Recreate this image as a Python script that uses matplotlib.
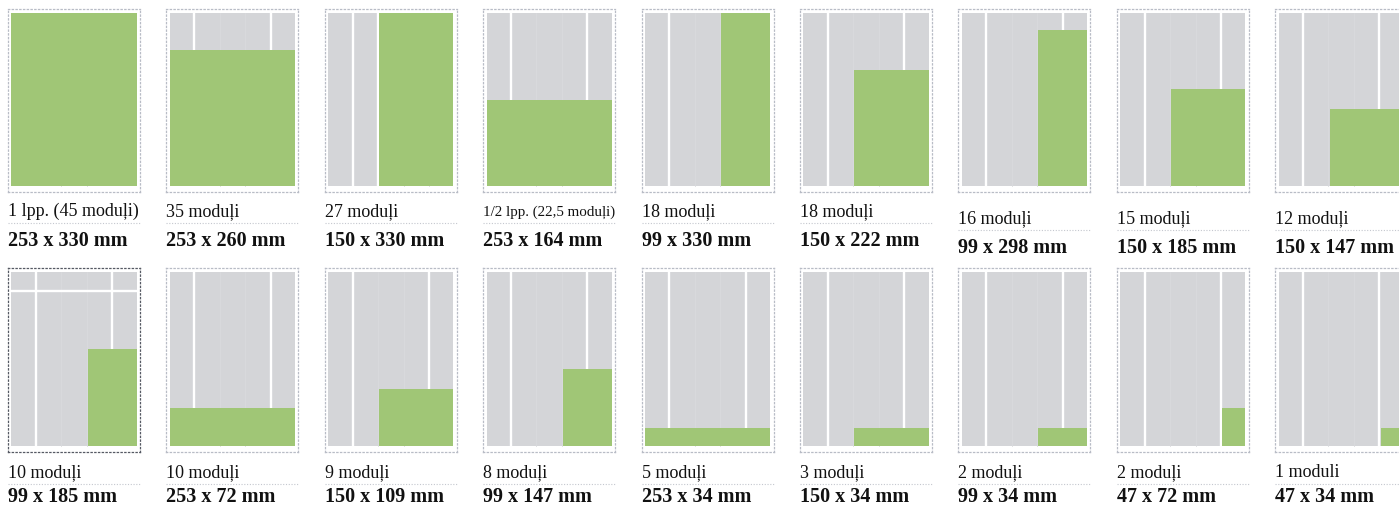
import matplotlib.pyplot as plt
from matplotlib.lines import Line2D
from matplotlib.patches import Rectangle

# ad sizes (mm) on a 253 x 330 mm page, 5 x 9 modules
labels = ["1 lpp. (45 moduļi)", "35 moduļi", "27 moduļi", "1/2 lpp. (22,5 moduļi)",
          "18 moduļi", "18 moduļi", "16 moduļi", "15 moduļi", "12 moduļi",
          "10 moduļi", "10 moduļi", "9 moduļi", "8 moduļi", "5 moduļi",
          "3 moduļi", "2 moduļi", "2 moduļi", "1 moduli"]
ad_w = [253, 253, 150, 253, 99, 150, 99, 150, 150,
        99, 253, 150, 99, 253, 150, 99, 47, 47]
ad_h = [330, 260, 330, 164, 330, 222, 298, 185, 147,
        185, 72, 109, 147, 34, 34, 34, 72, 34]
# white gutter lines shown in each thumbnail (column index)
guides = [[1, 4]] * 18
guides[2] = [1, 2]

PAGE_W, PAGE_H = 253, 330
COL, GUT = 47, 4.5
ROW, RGUT = 34, 3

GRAY = "#d4d5d8"
GREEN = "#a0c676"
TXT = "#111111"
W, H = 1399, 507

fig = plt.figure(figsize=(W / 100, H / 100), dpi=100)
fig.patch.set_facecolor("white")

pitch = 158.4
x0 = 8
rows_y = [(9, 192), (268, 452)]


def gutter(k):
    return k * COL + (k - 0.5) * GUT


for i in range(18):
    r, c = divmod(i, 9)
    left = x0 + pitch * c
    top, bot = rows_y[r]
    ax = fig.add_axes([left / W, 1 - bot / H, 132 / W, (bot - top) / H])
    ax.set_xlim(-7, PAGE_W + 7)
    ax.set_ylim(-11, PAGE_H + 8)
    ax.set_xticks([])
    ax.set_yticks([])
    ax.set_facecolor("white")
    for s in ax.spines.values():
        s.set_linestyle((0, (1, 2)))
        s.set_linewidth(0.9)
        s.set_edgecolor("#555963" if i == 9 else "#b8bcc6")

    ax.add_patch(Rectangle((0, 0), PAGE_W, PAGE_H, color=GRAY, lw=0, zorder=1))
    for k in range(1, 5):
        ax.plot([gutter(k)] * 2, [0, PAGE_H], color="#d9dadd", lw=0.6, zorder=2)
    for k in guides[i]:
        ax.plot([gutter(k)] * 2, [0, PAGE_H], color="white", lw=1.7, zorder=3)
    if i == 9:
        ax.plot([0, PAGE_W], [PAGE_H - ROW - RGUT / 2] * 2, color="white", lw=1.7, zorder=3)
    ax.add_patch(Rectangle((PAGE_W - ad_w[i], 0), ad_w[i], ad_h[i],
                           color=GREEN, lw=0, zorder=4))

    # labels
    shift = 7 if (r == 0 and c >= 6) else 0
    if r == 0:
        b1, sep, b2 = 216 + shift, 223 + shift, 246 + shift
    else:
        b1, sep, b2 = 477, 484, 502
    fs = 10.8 if labels[i].startswith("1/2") else 13
    fig.text(left / W, 1 - b1 / H, labels[i], fontsize=fs, family="Liberation Serif",
             color=TXT, va="baseline", ha="left")
    fig.add_artist(Line2D([left / W, (left + 132) / W], [1 - sep / H] * 2,
                          color="#c4c7ce", lw=0.8, linestyle=(0, (1, 1.5))))
    fig.text(left / W, 1 - b2 / H, f"{ad_w[i]} x {ad_h[i]} mm", fontsize=14.5,
             family="Liberation Serif", weight="bold", color=TXT,
             va="baseline", ha="left")

fig.savefig("out.png", dpi=100)
